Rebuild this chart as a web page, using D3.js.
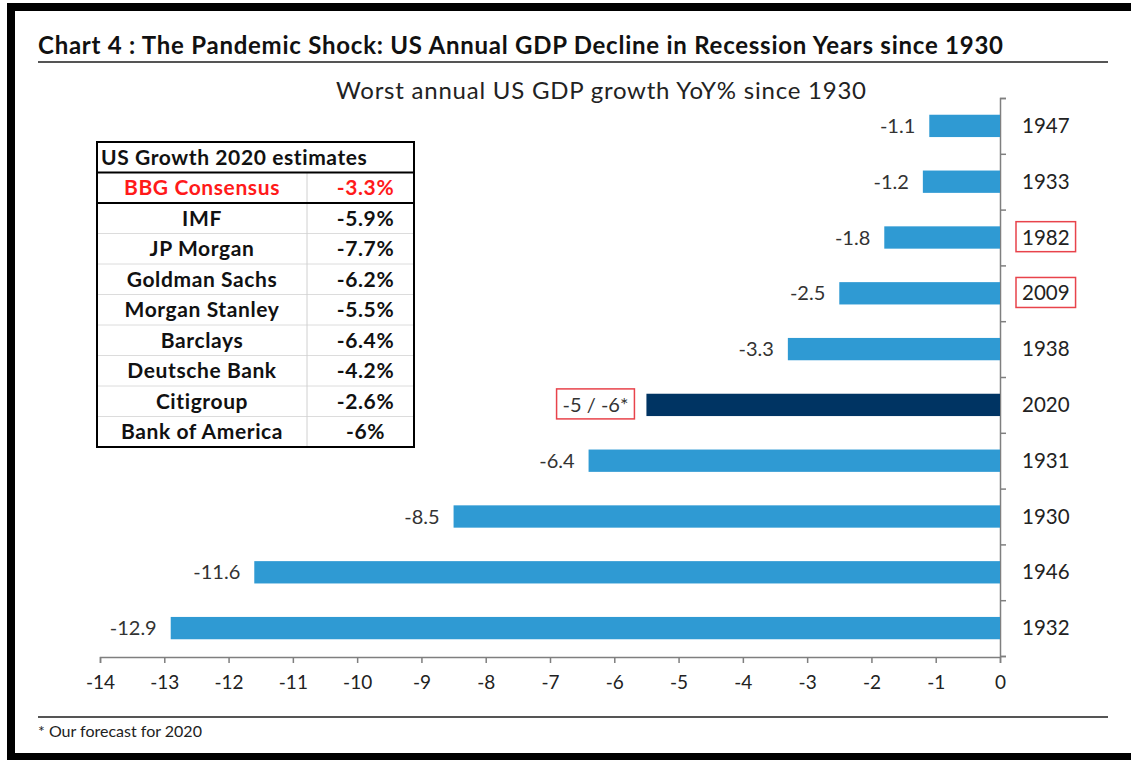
<!DOCTYPE html>
<html>
<head>
<meta charset="utf-8">
<script src="https://cdn.jsdelivr.net/npm/d3@7"></script>
<style>
    body { margin: 0; background: #fff; }
    text { font-family: Lato, "Open Sans", sans-serif; }
    .axis path, .axis line { stroke: #7f7f7f; stroke-width: 1.5; }
    .axis text { font-size: 19px; fill: #222; font-family: Lato, sans-serif; }
</style>
</head>
<body>
<svg id="chart" width="1131" height="760"></svg>
<script>
// bars, top to bottom
let years = ["1947", "1933", "1982", "2009", "1938", "2020", "1931", "1930", "1946", "1932"];
let growth = [-1.1, -1.2, -1.8, -2.5, -3.3, -5.5, -6.4, -8.5, -11.6, -12.9];
let valueLabels = ["-1.1", "-1.2", "-1.8", "-2.5", "-3.3", "-5 / -6*", "-6.4", "-8.5", "-11.6", "-12.9"];
let xTicks = [-14, -13, -12, -11, -10, -9, -8, -7, -6, -5, -4, -3, -2, -1, 0];
let boxedYears = ["1982", "2009"];
let forecastYear = "2020";

// estimates table
let tableTitle = "US Growth 2020 estimates";
let banks = ["BBG Consensus", "IMF", "JP Morgan", "Goldman Sachs", "Morgan Stanley", "Barclays", "Deutsche Bank", "Citigroup", "Bank of America"];
let estimates = ["-3.3%", "-5.9%", "-7.7%", "-6.2%", "-5.5%", "-6.4%", "-4.2%", "-2.6%", "-6%"];

let svg = d3.select("#chart");

// frame round the picture
svg.append("rect").attr("x", 11).attr("y", 7).attr("width", 1131).attr("height", 750)
    .attr("fill", "none").attr("stroke", "#000").attr("stroke-width", 8);

// titles (the original face is wider than Lato, so stretch the spacing)
svg.append("text")
    .attr("x", 38).attr("y", 54)
    .attr("textLength", 965).attr("lengthAdjust", "spacing")
    .style("font-size", "24px").style("font-weight", "bold").attr("fill", "#111")
    .text("Chart 4 : The Pandemic Shock: US Annual GDP Decline in Recession Years since 1930");
svg.append("line").attr("x1", 38).attr("x2", 1108).attr("y1", 62).attr("y2", 62)
    .attr("stroke", "#555").attr("stroke-width", 2);
svg.append("text")
    .attr("x", 336).attr("y", 99)
    .attr("textLength", 530).attr("lengthAdjust", "spacing")
    .style("font-size", "24px").attr("fill", "#222")
    .text("Worst annual US GDP growth YoY% since 1930");

// footer
svg.append("line").attr("x1", 38).attr("x2", 1108).attr("y1", 717).attr("y2", 717)
    .attr("stroke", "#555").attr("stroke-width", 2);
svg.append("text").attr("x", 38).attr("y", 737)
    .style("font-size", "16px").attr("fill", "#222")
    .text("* Our forecast for 2020");

// scales
let xScale = d3.scaleLinear().domain([-14, 0]).range([100, 1000]);
let yScale = d3.scaleBand().domain(years).range([98, 656])
    .paddingInner(0.6).paddingOuter(0.3);
let edgeScale = d3.scaleLinear().domain([0, years.length]).range([98, 656]);

// x axis
svg.append("g")
    .attr("class", "x axis")
    .attr("transform", "translate(0, 657)")
    .call(d3.axisBottom(xScale).tickValues(xTicks).tickSize(6).tickSizeOuter(6)
        .tickPadding(13).tickFormat((d) => String(d)));

// y axis: ticks on category edges, pointing right
svg.append("g")
    .attr("class", "y axis")
    .attr("transform", "translate(1000, 0)")
    .call(d3.axisRight(edgeScale).tickValues(d3.range(0, years.length + 1))
        .tickSize(6).tickSizeOuter(6).tickFormat(""));

// bars
svg.selectAll(".bar")
    .data(years)
    .enter()
    .append("rect")
    .attr("class", "bar")
    .attr("x", (d, i) => xScale(growth[i]))
    .attr("y", (d) => yScale(d))
    .attr("width", (d, i) => xScale(0) - xScale(growth[i]))
    .attr("height", yScale.bandwidth())
    .attr("fill", (d) => d == forecastYear ? "#003463" : "#2f9ad3");

// value labels
let vals = svg.selectAll(".val")
    .data(years)
    .enter()
    .append("text")
    .attr("class", "val")
    .attr("x", (d, i) => xScale(growth[i]) - (d == forecastYear ? 18 : 14))
    .attr("y", (d) => yScale(d) + yScale.bandwidth() / 2)
    .attr("dy", "0.35em")
    .attr("text-anchor", "end")
    .style("font-size", "20px").attr("fill", "#333")
    .text((d, i) => valueLabels[i]);

// year labels
let yearText = svg.selectAll(".yr")
    .data(years)
    .enter()
    .append("text")
    .attr("class", "yr")
    .attr("x", 1022)
    .attr("y", (d) => yScale(d) + yScale.bandwidth() / 2)
    .attr("dy", "0.35em")
    .style("font-size", "20.5px").attr("fill", "#222")
    .text((d) => d);

// red boxes round some labels
function redBox(node) {
    let b = node.getBBox();
    svg.append("rect")
        .attr("x", b.x - 6).attr("y", b.y - 3)
        .attr("width", b.width + 12).attr("height", b.height + 6)
        .attr("fill", "none").attr("stroke", "#e8434b").attr("stroke-width", 1.5);
}
yearText.filter((d) => boxedYears.includes(d)).each(function () { redBox(this); });
vals.filter((d) => d == forecastYear).each(function () { redBox(this); });

// estimates table
let tLeft = 97, tRight = 414, tSplit = 307;
let rowScale = d3.scaleBand().domain(d3.range(banks.length + 1)).range([142, 447]);
let table = svg.append("g").attr("class", "table");

table.append("rect").attr("x", tLeft).attr("y", 142)
    .attr("width", tRight - tLeft).attr("height", 447 - 142)
    .attr("fill", "#fff");

// light grid
table.selectAll(".rowline")
    .data(d3.range(3, banks.length + 1))
    .enter()
    .append("line")
    .attr("x1", tLeft).attr("x2", tRight)
    .attr("y1", (d) => rowScale(d)).attr("y2", (d) => rowScale(d))
    .attr("stroke", "#dcdcdc").attr("stroke-width", 1);
table.append("line")
    .attr("x1", tSplit).attr("x2", tSplit)
    .attr("y1", rowScale(1)).attr("y2", 447)
    .attr("stroke", "#d0d0d0").attr("stroke-width", 1);

// heavy lines under header and consensus rows
[1, 2].forEach((r) => {
    table.append("line")
        .attr("x1", tLeft).attr("x2", tRight)
        .attr("y1", rowScale(r)).attr("y2", rowScale(r))
        .attr("stroke", "#000").attr("stroke-width", 2);
});
table.append("rect").attr("x", tLeft).attr("y", 142)
    .attr("width", tRight - tLeft).attr("height", 447 - 142)
    .attr("fill", "none").attr("stroke", "#000").attr("stroke-width", 2);

table.append("text")
    .attr("x", tLeft + 4).attr("y", rowScale(0) + rowScale.bandwidth() / 2)
    .attr("dy", "0.35em")
    .style("font-size", "21px").style("font-weight", "bold").style("letter-spacing", "0.6px")
    .attr("fill", "#111")
    .text(tableTitle);

table.selectAll(".bank")
    .data(banks)
    .enter()
    .append("text")
    .attr("x", (tLeft + tSplit) / 2)
    .attr("y", (d, i) => rowScale(i + 1) + rowScale.bandwidth() / 2)
    .attr("dy", "0.35em")
    .attr("text-anchor", "middle")
    .style("font-size", "21px").style("font-weight", "bold").style("letter-spacing", "0.6px")
    .attr("fill", (d, i) => i == 0 ? "#ff1a1a" : "#111")
    .text((d) => d);

table.selectAll(".est")
    .data(estimates)
    .enter()
    .append("text")
    .attr("x", (tSplit + tRight) / 2 + 5)
    .attr("y", (d, i) => rowScale(i + 1) + rowScale.bandwidth() / 2)
    .attr("dy", "0.35em")
    .attr("text-anchor", "middle")
    .style("font-size", "21px").style("font-weight", "bold").style("letter-spacing", "0.6px")
    .attr("fill", (d, i) => i == 0 ? "#ff1a1a" : "#111")
    .text((d) => d);
</script>
</body>
</html>
